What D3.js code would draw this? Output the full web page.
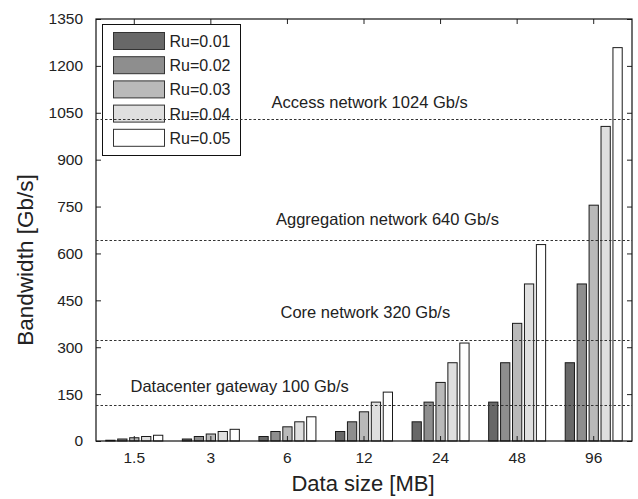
<!DOCTYPE html>
<html>
<head>
<meta charset="utf-8">
<script src="https://cdn.jsdelivr.net/npm/d3@7"></script>
<style>
  html, body { margin: 0; padding: 0; background: #fff; }
  svg { display: block; font-family: Arial, "Liberation Sans", sans-serif; }
</style>
</head>
<body>
<div id="chart"></div>
<script>
const categories = ["1.5", "3", "6", "12", "24", "48", "96"];
const seriesNames = ["Ru=0.01", "Ru=0.02", "Ru=0.03", "Ru=0.04", "Ru=0.05"];
const ru001 = [4, 8, 16, 32, 63, 126, 252];
const ru002 = [8, 16, 32, 63, 126, 252, 504];
const ru003 = [12, 24, 47, 95, 189, 378, 756];
const ru004 = [16, 32, 63, 126, 252, 504, 1008];
const ru005 = [20, 39, 79, 158, 315, 630, 1260];
const yTicks = [0, 150, 300, 450, 600, 750, 900, 1050, 1200, 1350];
const limitLabels = ["Access network 1024 Gb/s", "Aggregation network 640 Gb/s", "Core network 320 Gb/s", "Datacenter gateway 100 Gb/s"];
const limitLevels = [1031, 642, 323, 115];

const fills = ["#686868", "#8e8e8e", "#b9b9b9", "#dfdfdf", "#ffffff"];

(function () {
  const width = 638, height = 499;
  const margin = { top: 19, right: 6, bottom: 58, left: 96 };
  const innerW = width - margin.left - margin.right;
  const innerH = height - margin.top - margin.bottom;

  const svg = d3.select("#chart").append("svg")
    .attr("width", width)
    .attr("height", height);

  const g = svg.append("g").attr("transform", `translate(${margin.left},${margin.top})`);

  const allSeries = [ru001, ru002, ru003, ru004, ru005];
  const rows = categories.map((c, i) => ({
    cat: c,
    vals: seriesNames.map((s, k) => ({ key: s, value: allSeries[k][i], k }))
  }));

  const x0 = d3.scaleBand().domain(categories).range([0, innerW]).padding(0);
  const half = 29;
  const x1 = d3.scaleBand().domain(seriesNames)
    .range([x0.bandwidth() / 2 - half, x0.bandwidth() / 2 + half])
    .paddingInner(0.14).paddingOuter(0);
  const y = d3.scaleLinear().domain([0, 1350]).range([innerH, 0]);

  // bars
  const groups = g.selectAll(".grp").data(rows).enter().append("g")
    .attr("transform", d => `translate(${x0(d.cat)},0)`);
  groups.selectAll("rect").data(d => d.vals).enter().append("rect")
    .attr("x", d => x1(d.key) + 0.5)
    .attr("y", d => y(d.value) + 0.5)
    .attr("width", x1.bandwidth() - 1)
    .attr("height", d => Math.max(0, innerH - y(d.value) - 0.5))
    .attr("fill", d => fills[d.k])
    .attr("stroke", "#1a1a1a")
    .attr("stroke-width", 1);

  // axes
  const fs = "15.5px";
  const yAxis = g.append("g")
    .call(d3.axisLeft(y).tickValues(yTicks).tickSize(-5).tickPadding(13).tickFormat(d3.format("d")));
  yAxis.selectAll("text").style("font-size", fs).attr("fill", "#222");
  g.append("g").attr("transform", `translate(${innerW},0)`)
    .call(d3.axisRight(y).tickValues(yTicks).tickSize(-5).tickFormat(""));
  const xAxis = g.append("g").attr("transform", `translate(0,${innerH})`)
    .call(d3.axisBottom(x0).tickSize(-5).tickPadding(11));
  xAxis.selectAll("text").style("font-size", fs).attr("fill", "#222");
  g.append("g")
    .call(d3.axisTop(x0).tickSize(-5).tickFormat(""));
  g.selectAll(".domain").remove();
  g.selectAll(".tick line").attr("stroke", "#222");

  g.append("rect")
    .attr("x", 0).attr("y", 0)
    .attr("width", innerW).attr("height", innerH)
    .attr("fill", "none").attr("stroke", "#111").attr("stroke-width", 1.2);

  // legend
  const leg = g.append("g").attr("transform", "translate(6.5,5.5)");
  leg.append("rect")
    .attr("width", 138).attr("height", 131)
    .attr("fill", "#fff").attr("stroke", "#111").attr("stroke-width", 1);
  seriesNames.forEach((s, k) => {
    const row = leg.append("g").attr("transform", `translate(11,${8 + k * 24.2})`);
    row.append("rect").attr("width", 51).attr("height", 17)
      .attr("fill", fills[k]).attr("stroke", "#333").attr("stroke-width", 1);
    row.append("text").attr("x", 56).attr("y", 14.5)
      .style("font-size", "16px").attr("fill", "#222").text(s);
  });

  // limit lines + labels
  const labelPos = [
    { x: 175.5, y: 1066 },
    { x: 180, y: 690 },
    { x: 184.5, y: 393 },
    { x: 34.5, y: 158 }
  ];
  limitLevels.forEach((v, i) => {
    g.append("line")
      .attr("x1", 0).attr("x2", innerW)
      .attr("y1", Math.round(y(v)) + 0.5).attr("y2", Math.round(y(v)) + 0.5)
      .attr("stroke", "#333").attr("stroke-width", 1)
      .attr("stroke-dasharray", "2.5,2");
    g.append("text")
      .attr("x", labelPos[i].x).attr("y", y(labelPos[i].y))
      .style("font-size", "16.5px").attr("fill", "#222")
      .text(limitLabels[i]);
  });

  // axis titles
  svg.append("text")
    .attr("x", margin.left + innerW / 2 - 1).attr("y", 491)
    .attr("text-anchor", "middle")
    .style("font-size", "22px").attr("fill", "#222")
    .text("Data size [MB]");
  svg.append("text")
    .attr("transform", "translate(33,260) rotate(-90)")
    .attr("text-anchor", "middle")
    .style("font-size", "22.5px").attr("fill", "#222")
    .text("Bandwidth [Gb/s]");
})();
</script>
</body>
</html>
